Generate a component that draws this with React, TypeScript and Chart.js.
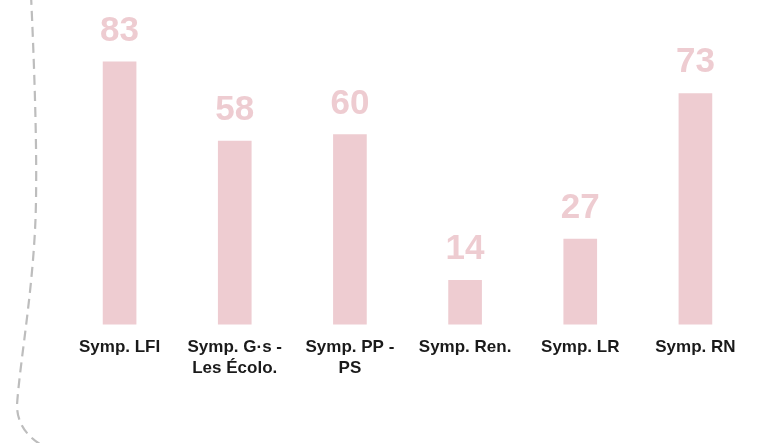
import React, { useEffect, useRef } from "react";
import { Chart, registerables } from "chart.js";

Chart.register(...registerables);

const categories: (string | string[])[] = [
  "Symp. LFI",
  ["Symp. G·s -", "Les Écolo."],
  ["Symp. PP -", "PS"],
  "Symp. Ren.",
  "Symp. LR",
  "Symp. RN",
];
const values: number[] = [83, 58, 60, 14, 27, 73];

const BAR_COLOR = "#EECCD1";
const FONT = "Arial, Helvetica, sans-serif";

const valueLabels = {
  id: "valueLabels",
  afterDatasetsDraw(chart: any) {
    const ctx = chart.ctx;
    const meta = chart.getDatasetMeta(0);
    ctx.save();
    ctx.font = `bold 35px ${FONT}`;
    ctx.fillStyle = BAR_COLOR;
    ctx.textAlign = "center";
    ctx.textBaseline = "alphabetic";
    meta.data.forEach((bar: any, i: number) => {
      ctx.fillText(String(chart.data.datasets[0].data[i]), bar.x, bar.y - 21);
    });
    ctx.restore();
  },
};

const frame = {
  id: "frame",
  beforeDraw(chart: any) {
    const ctx = chart.ctx;
    ctx.save();
    ctx.strokeStyle = "#BDBDBD";
    ctx.lineWidth = 2.2;
    ctx.setLineDash([10, 6]);
    ctx.beginPath();
    ctx.moveTo(31, -5);
    ctx.bezierCurveTo(34, 60, 37, 140, 36, 200);
    ctx.bezierCurveTo(35, 280, 20, 360, 17, 405);
    ctx.quadraticCurveTo(17, 432, 45, 447);
    ctx.lineTo(800, 452);
    ctx.stroke();
    ctx.restore();
  },
};

export default function App() {
  const ref = useRef<HTMLCanvasElement | null>(null);
  useEffect(() => {
    if (!ref.current) return;
    const chart = new Chart(ref.current, {
      type: "bar",
      data: {
        labels: categories,
        datasets: [
          {
            data: values,
            backgroundColor: BAR_COLOR,
            borderWidth: 0,
            barThickness: 33,
          },
        ],
      },
      options: {
        responsive: false,
        animation: false,
        layout: { padding: { left: 62, right: 29, top: 8, bottom: 51.6 } },
        plugins: {
          legend: { display: false },
          tooltip: { enabled: false },
        },
        scales: {
          x: {
            grid: { display: false, drawTicks: false },
            border: { display: false },
            ticks: {
              color: "#1a1a1a",
              padding: 13,
              maxRotation: 0,
              autoSkip: false,
              font: { family: FONT, size: 17, weight: "bold" },
            },
          },
          y: {
            display: false,
            min: 0,
            max: 100,
          },
        },
      },
      plugins: [frame, valueLabels],
    });
    return () => chart.destroy();
  }, []);
  return (
    <div style={{ position: "absolute", left: 0, top: 0, width: 782, height: 443, background: "#fff" }}>
      <canvas ref={ref} width={782} height={443} style={{ display: "block" }} />
    </div>
  );
}
